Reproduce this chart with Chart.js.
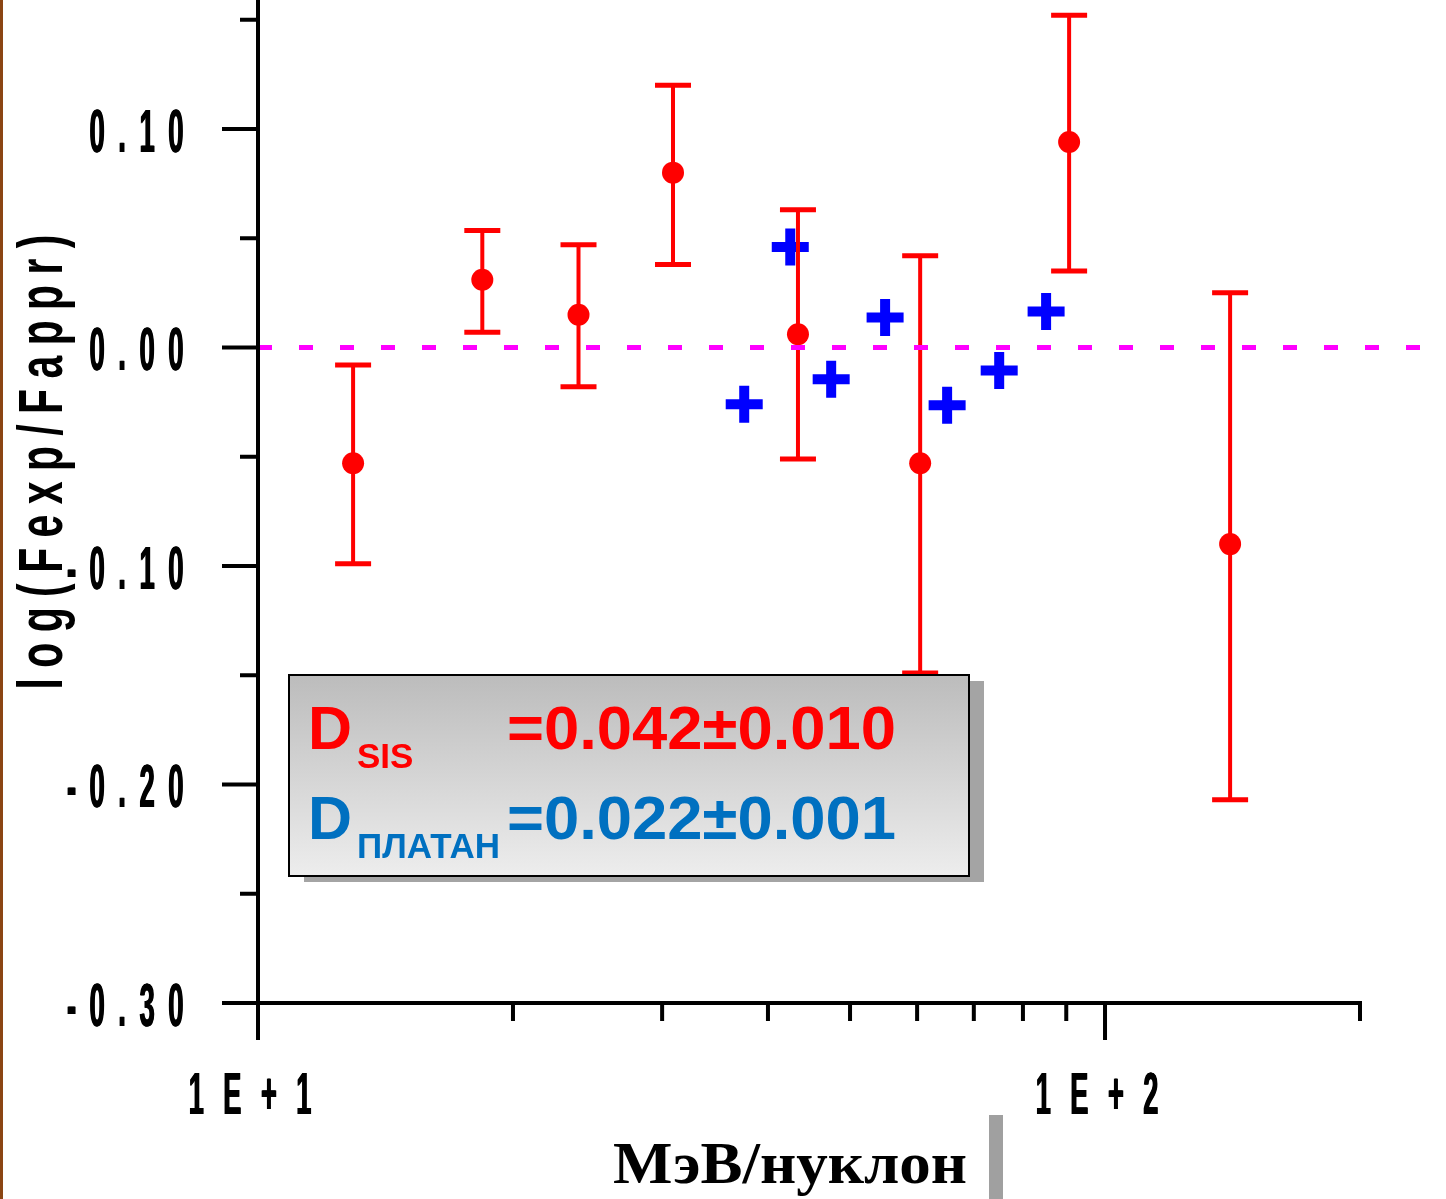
<!DOCTYPE html>
<html>
<head>
<meta charset="utf-8">
<script src="https://cdn.jsdelivr.net/npm/chart.js@4.4.1/dist/chart.umd.min.js"></script>
<style>
  html, body { margin: 0; padding: 0; background: #fff; }
  #wrap { position: relative; width: 1446px; height: 1199px; }
  #edge { position: absolute; left: 0; top: 0; width: 3px; height: 1199px; background: #8b4513; }
</style>
</head>
<body>
<div id="wrap"><canvas id="ratio"></canvas><div id="edge"></div></div>
<script>
// log(Fexp/Fappr) vs energy, MeV/nucleon
const sisEnergy = [12.95, 18.4, 23.9, 30.9, 43.4, 60.5, 90.7, 140.5];
const sisRatio  = [-0.053, 0.031, 0.015, 0.080, 0.006, -0.053, 0.094, -0.090];
const sisLow    = [-0.099, 0.007, -0.018, 0.038, -0.051, -0.149, 0.035, -0.207];
const sisHigh   = [-0.008, 0.0535, 0.047, 0.120, 0.063, 0.042, 0.152, 0.025];

const platanEnergy = [37.5, 42.5, 47.5, 55.0, 65.1, 75.0, 85.2];
const platanRatio  = [-0.026, 0.046, -0.0146, 0.0137, -0.0265, -0.0105, 0.0165];

const zeroLineX = [10, 245];

const yMajorTicks = [0.10, 0.00, -0.10, -0.20, -0.30];
const yTickLabels = ['0.10', '0.00', '-0.10', '-0.20', '-0.30'];
const yMinorTicks = [0.15, 0.05, -0.05, -0.15, -0.25];
const xMajorTicks = [10, 100];
const xTickLabels = ['1E+1', '1E+2'];
const xMinorTicks = [20, 30, 40, 50, 60, 70, 80, 90, 200];

const fitNames  = ['D', 'D'];
const fitSubs   = ['SIS', 'ПЛАТАН'];
const fitValues = ['=0.042±0.010', '=0.022±0.001'];
const fitColors = ['#ff0000', '#0070c0'];

const SANS = '"Liberation Sans", Arial, sans-serif';
const SERIF = '"Liberation Serif", "Times New Roman", serif';

// narrow, widely spaced lettering: every glyph squeezed by k, then a fixed gap;
// `heavy` smears the glyph sideways a few px to fatten the upright strokes
function spacedWidth(ctx, text, k, gap) {
  let w = 0;
  for (const ch of text) w += ctx.measureText(ch).width * k + gap;
  return w - gap;
}
function drawSpaced(ctx, text, x, y, k, gap, align, heavy = 0) {
  const w = spacedWidth(ctx, text, k, gap) + heavy;
  let cx = align === 'right' ? x - w : align === 'center' ? x - w / 2 : x;
  for (const ch of text) {
    for (let dx = 0; dx <= heavy; dx += 0.5) {
      ctx.save();
      ctx.translate(cx + dx, y);
      ctx.scale(k, 1);
      ctx.fillText(ch, 0, 0);
      ctx.restore();
    }
    cx += ctx.measureText(ch).width * k + gap;
  }
}
function drawFitted(ctx, text, x, y, width) {
  const k = width / ctx.measureText(text).width;
  ctx.save();
  ctx.translate(x, y);
  ctx.scale(k, 1);
  ctx.fillText(text, 0, 0);
  ctx.restore();
}

function drawErrorBars(chart) {
  const ctx = chart.ctx, xs = chart.scales.x, ys = chart.scales.y;
  ctx.save();
  ctx.strokeStyle = '#ff0000';
  sisEnergy.forEach((e, i) => {
    const x = xs.getPixelForValue(e);
    const yl = ys.getPixelForValue(sisLow[i]);
    const yh = ys.getPixelForValue(sisHigh[i]);
    ctx.lineWidth = 4;
    ctx.beginPath();
    ctx.moveTo(x, yl); ctx.lineTo(x, yh);
    ctx.stroke();
    ctx.lineWidth = 5;
    ctx.beginPath();
    ctx.moveTo(x - 18, yl); ctx.lineTo(x + 18, yl);
    ctx.moveTo(x - 18, yh); ctx.lineTo(x + 18, yh);
    ctx.stroke();
  });
  ctx.restore();
}

function drawAxes(chart) {
  const ctx = chart.ctx, xs = chart.scales.x, ys = chart.scales.y;
  const x0 = xs.getPixelForValue(xMajorTicks[0]);
  const y0 = ys.getPixelForValue(yMajorTicks[yMajorTicks.length - 1]);
  ctx.save();
  ctx.strokeStyle = '#000';
  ctx.lineWidth = 4;
  ctx.beginPath();
  // y axis, running on below the x axis
  ctx.moveTo(x0, 0); ctx.lineTo(x0, y0 + 37);
  // x axis, starting at the left tick ends
  ctx.moveTo(x0 - 36, y0); ctx.lineTo(xs.right + 2, y0);
  yMajorTicks.forEach(v => { const y = ys.getPixelForValue(v); ctx.moveTo(x0 - 36, y); ctx.lineTo(x0, y); });
  yMinorTicks.forEach(v => { const y = ys.getPixelForValue(v); ctx.moveTo(x0 - 18, y); ctx.lineTo(x0, y); });
  xMajorTicks.forEach(v => { const x = xs.getPixelForValue(v); ctx.moveTo(x, y0); ctx.lineTo(x, y0 + 37); });
  xMinorTicks.forEach(v => { const x = xs.getPixelForValue(v); ctx.moveTo(x, y0); ctx.lineTo(x, y0 + 18); });
  ctx.stroke();

  ctx.fillStyle = '#000';
  ctx.font = 'bold 61px ' + SANS;
  yMajorTicks.forEach((v, i) => {
    drawSpaced(ctx, yTickLabels[i], x0 - 74, ys.getPixelForValue(v) + 23, 0.45, 13.5, 'right', 1);
  });
  ctx.font = 'bold 59px ' + SANS;
  xMajorTicks.forEach((v, i) => {
    drawSpaced(ctx, xTickLabels[i], xs.getPixelForValue(v) - 8, y0 + 111, 0.46, 19.5, 'center', 1);
  });

  // y title, read bottom to top
  const title = 'log(Fexp/Fappr)';
  ctx.font = 'bold 63px ' + SANS;
  const k = 0.65;
  let adv = 0;
  for (const ch of title) adv += ctx.measureText(ch).width * k;
  const gap = (455 - adv) / (title.length - 1);
  ctx.save();
  ctx.translate(62, 462);
  ctx.rotate(-Math.PI / 2);
  drawSpaced(ctx, title, 0, 0, k, gap, 'center');
  ctx.restore();

  // x title
  ctx.font = 'bold 60px ' + SERIF;
  drawFitted(ctx, 'МэВ/нуклон', 613, 1183, 354);
  ctx.fillStyle = '#a0a0a0';
  ctx.fillRect(989, 1115, 14, 84);
  ctx.restore();
}

function drawFitBox(ctx) {
  const bx = 289, by = 675, bw = 680, bh = 201;
  ctx.save();
  ctx.fillStyle = '#a4a4a4';
  ctx.fillRect(bx + 15, by + 6, bw, bh);
  const g = ctx.createLinearGradient(0, by, 0, by + bh);
  g.addColorStop(0, '#bcbcbc');
  g.addColorStop(1, '#ededed');
  ctx.fillStyle = g;
  ctx.fillRect(bx, by, bw, bh);
  ctx.strokeStyle = '#000';
  ctx.lineWidth = 2;
  ctx.strokeRect(bx, by, bw, bh);

  const baselines = [749, 839];
  fitNames.forEach((name, i) => {
    const y = baselines[i];
    ctx.fillStyle = fitColors[i];
    ctx.font = 'bold 61px ' + SANS;
    ctx.fillText(name, bx + 19, y);
    drawFitted(ctx, fitValues[i], bx + 218, y, 389);
    ctx.font = 'bold 35px ' + SANS;
    ctx.fillText(fitSubs[i], bx + 68, y + 19);
  });
  ctx.restore();
}

const overlay = {
  id: 'overlay',
  afterDatasetDraw(chart, args) {
    if (args.index === 1) drawErrorBars(chart);
  },
  afterDraw(chart) {
    drawAxes(chart);
    drawFitBox(chart.ctx);
  }
};

new Chart(document.getElementById('ratio'), {
  type: 'scatter',
  data: {
    datasets: [
      {
        label: 'SIS',
        data: sisEnergy.map((e, i) => ({ x: e, y: sisRatio[i] })),
        backgroundColor: '#ff0000',
        borderWidth: 0,
        pointRadius: 11,
        order: 2
      },
      {
        label: 'ПЛАТАН',
        data: platanEnergy.map((e, i) => ({ x: e, y: platanRatio[i] })),
        pointStyle: 'cross',
        borderColor: '#0000ff',
        borderWidth: 10,
        pointRadius: 18.5,
        order: 3
      },
      {
        label: 'zero',
        data: zeroLineX.map(x => ({ x, y: 0 })),
        showLine: true,
        borderColor: '#ff00ff',
        borderWidth: 5,
        borderDash: [14, 27],
        pointRadius: 0,
        clip: false,
        order: 1
      }
    ]
  },
  options: {
    responsive: true,
    maintainAspectRatio: false,
    animation: false,
    events: [],
    layout: { autoPadding: false, padding: { left: 258, right: 86, top: 0, bottom: 196 } },
    plugins: { legend: { display: false }, tooltip: { enabled: false } },
    scales: {
      x: { type: 'logarithmic', min: 10, max: 200, display: false },
      y: { type: 'linear', min: -0.30, max: 0.159, display: false }
    }
  },
  plugins: [overlay]
});
</script>
</body>
</html>
